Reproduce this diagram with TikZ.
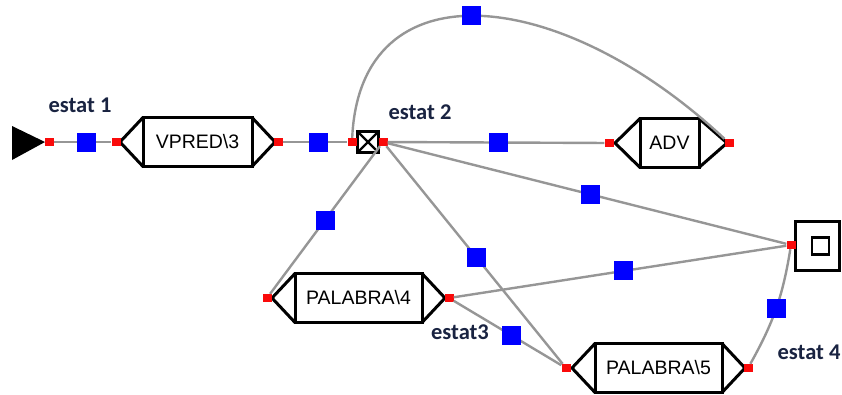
\documentclass[tikz,border=0pt]{standalone}
\usepackage{fontspec}
\newfontfamily\boxfont{Liberation Sans}
\newfontfamily\labfont{Carlito}
\definecolor{linegray}{RGB}{150,150,150}
\definecolor{portred}{RGB}{250,10,10}
\definecolor{midblue}{RGB}{0,0,255}
\definecolor{labnavy}{RGB}{25,35,65}
\begin{document}
\begin{tikzpicture}[x=1pt, y=-1pt,
  box/.style={draw, line width=3pt, rectangle, minimum height=49pt, inner sep=0pt, outer sep=0pt, font=\boxfont\fontsize{19.5}{22}\selectfont},
  side/.style={line width=3pt},
  port/.style={fill=portred, minimum width=9pt, minimum height=8pt, inner sep=0pt},
  mid/.style={fill=midblue, minimum size=19pt, inner sep=0pt},
  conn/.style={linegray, line width=2.4pt},
  lab/.style={font=\labfont\bfseries\fontsize{22.5}{26}\selectfont, text=labnavy}]
\useasboundingbox (0,0) rectangle (842,394);
% states
\fill (12,126) -- (45,142) -- (12,160) -- cycle;
\node[port] (p0) at (49,142) {};
\node[box, minimum width=109pt] (vpred) at (197.5,142) {VPRED\textbackslash 3};
\draw[side] (vpred.north west) -- ([xshift=-23pt]vpred.west) -- (vpred.south west);
\draw[side] (vpred.north east) -- ([xshift=23pt]vpred.east) -- (vpred.south east);
\node[port] (vpred-in) at (116,142) {};
\node[port] (vpred-out) at (278,142) {};
\node[draw, line width=2.8pt, minimum size=21pt, inner sep=0pt, outer sep=0pt,
  path picture={\draw[line width=2.2pt] (path picture bounding box.north west) -- (path picture bounding box.south east)
    (path picture bounding box.north east) -- (path picture bounding box.south west);}] (e2) at (368,142) {};
\node[port] (e2-l) at (352,142) {};
\node[port] (e2-r) at (383,142) {};
\node[box, minimum width=59pt] (adv) at (669.5,143) {ADV};
\draw[side] (adv.north west) -- ([xshift=-25pt]adv.west) -- (adv.south west);
\draw[side] (adv.north east) -- ([xshift=28pt]adv.east) -- (adv.south east);
\node[port] (adv-in) at (609,143) {};
\node[port] (adv-out) at (729,143) {};
\node[box, minimum width=127pt] (p4) at (358.5,298) {PALABRA\textbackslash 4};
\draw[side] (p4.north west) -- ([xshift=-23pt]p4.west) -- (p4.south west);
\draw[side] (p4.north east) -- ([xshift=23pt]p4.east) -- (p4.south east);
\node[port] (p4-in) at (267,298) {};
\node[port] (p4-out) at (449,298) {};
\node[box, minimum width=127pt] (p5) at (658.5,368) {PALABRA\textbackslash 5};
\draw[side] (p5.north west) -- ([xshift=-23pt]p5.west) -- (p5.south west);
\draw[side] (p5.north east) -- ([xshift=23pt]p5.east) -- (p5.south east);
\node[port] (p5-in) at (566,368) {};
\node[port] (p5-out) at (748,368) {};
\node[draw, line width=3pt, minimum width=44pt, minimum height=49pt, inner sep=0pt] (fin) at (817,246) {};
\node[draw, line width=2.8pt, minimum size=17pt, inner sep=0pt] (fin-in) at (820.5,246) {};
\node[port] (fin-p) at (791,245) {};
% labels
\node[lab] (l1) at (80,105) {estat 1};
\node[lab] (l2) at (420,112) {estat 2};
\node[lab] (l3) at (460,332) {estat3};
\node[lab] (l4) at (809,352) {estat 4};
% transitions
\draw[conn] (p0) -- node[mid, pos=0.57] (m1) {} (vpred-in);
\draw[conn] (vpred-out) -- node[mid, pos=0.55] (m2) {} (e2-l);
\draw[conn] (e2-r) -- node[mid, pos=0.51] (m3) {} (adv-in);
\draw[conn] (e2-l) .. controls (360,-35) and (560,-15) .. node[mid, pos=0.48] (m4) {} (adv-out);
\draw[conn] (e2-r) -- node[mid, pos=0.51] (m5) {} (fin-p);
\draw[conn] (e2-r) -- node[mid, pos=0.5] (m6) {} (p4-in);
\draw[conn] (e2-r) -- node[mid, pos=0.51] (m7) {} (p5-in);
\draw[conn] (p4-out) -- node[mid, pos=0.51] (m8) {} (fin-p);
\draw[conn] (p4-out) -- node[mid, pos=0.54] (m9) {} (p5-in);
\draw[conn] (p5-out) to[bend right=10] node[mid, pos=0.5] (m10) {} (fin-p);
\end{tikzpicture}
\end{document}
